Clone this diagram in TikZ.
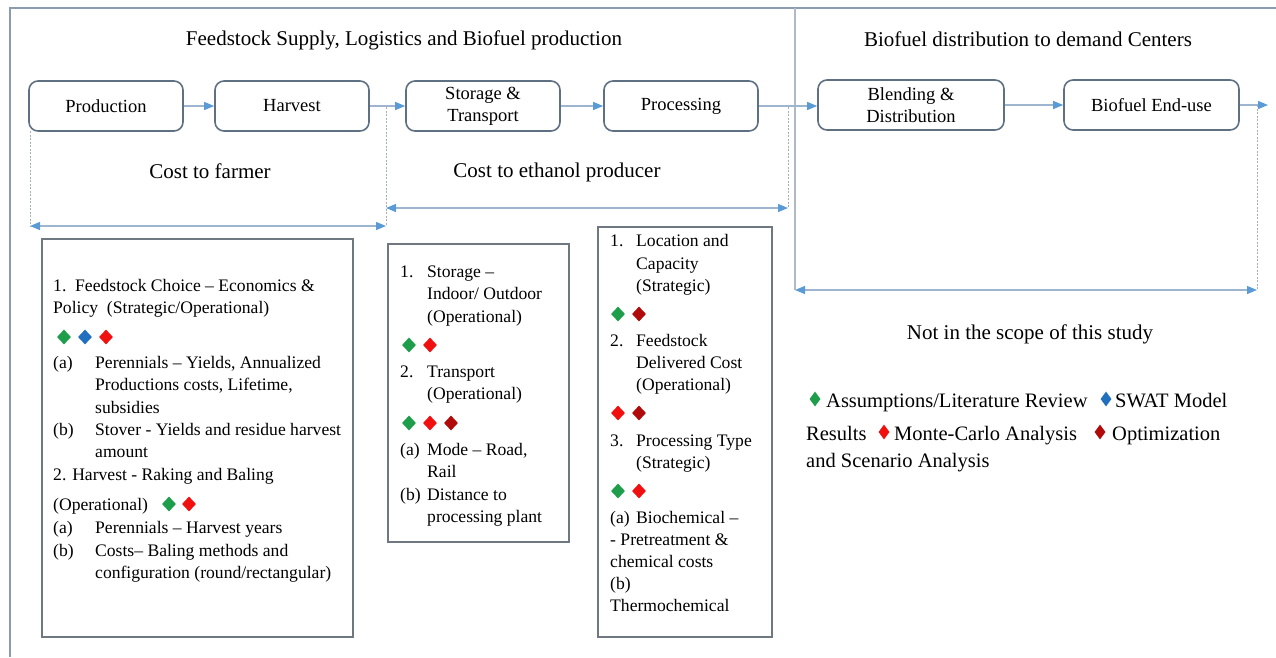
\documentclass[tikz,border=0pt]{standalone}
\usepackage{fontspec}
\setmainfont{Liberation Serif}
\usetikzlibrary{arrows.meta,shapes.geometric}
\definecolor{boxline}{HTML}{5E7082}
\definecolor{cboxc}{HTML}{6F7780}
\definecolor{arr}{HTML}{5B9BD5}
\definecolor{arrline}{HTML}{9DB5CF}
\definecolor{dotc}{HTML}{A5ADB5}
\definecolor{framec}{HTML}{8C9CAC}
\definecolor{cgreen}{HTML}{1E9E4A}
\definecolor{cblue}{HTML}{2170C0}
\definecolor{cred}{HTML}{F01010}
\definecolor{cdred}{HTML}{B00A0A}
\begin{document}
\begin{tikzpicture}[x=1pt,y=-1pt,
 stage/.style={draw=boxline,line width=1.6pt,rounded corners=9pt,minimum width=154pt,minimum height=50pt,font=\fontsize{18.5}{22}\selectfont,align=center,inner sep=0pt},
 flow/.style={draw=arrline,line width=1.2pt,-{Triangle[length=10pt,width=8pt,color=arr]}},
 span/.style={draw=arrline,line width=1.2pt,{Triangle[length=10pt,width=8pt,color=arr]}-{Triangle[length=10pt,width=8pt,color=arr]}},
 guide/.style={draw=dotc,line width=1pt,dash pattern=on 2pt off 1.5pt},
 cbox/.style={draw=cboxc,line width=1.6pt,inner sep=0pt,anchor=north west},
 lt/.style={anchor=base west,inner sep=0pt,font=\fontsize{17.6}{22}\selectfont},
 lg/.style={anchor=base west,inner sep=0pt,font=\fontsize{20.5}{24}\selectfont},
 ttl/.style={anchor=base,inner sep=0pt,font=\fontsize{21}{24}\selectfont},
 dia/.style={diamond,inner sep=0pt,minimum width=14pt,minimum height=15pt,draw=none},
 ldia/.style={diamond,inner sep=0pt,minimum width=11pt,minimum height=15pt,draw=none},
]
\useasboundingbox (0,0) rectangle (1276,657);
% frame
\draw[framec,line width=1.4pt] (10,657) -- (10,8) -- (1276,8);
\coordinate (dtop) at (795,8);
\coordinate (dbot) at (795,290);
\draw[color=framec!70,line width=1.2pt] (dtop) -- (dbot);

% titles
\node[ttl] (t1) at (404,45) {Feedstock Supply, Logistics and Biofuel production};
\node[ttl] (t2) at (1028,46) {Biofuel distribution to demand Centers};
\node[ttl] (t3) at (210,178) {Cost to farmer};
\node[ttl] (t4) at (557,177) {Cost to ethanol producer};
\node[ttl] (t5) at (1030,339) {Not in the scope of this study};

% stages
\node[stage] (prod) at (106,106) {Production};
\node[stage] (harv) at (292,106) {Harvest};
\node[stage] (stor) at (483,106) {Storage \&\\Transport};
\node[stage] (proc) at (681,106) {Processing};
\node[stage,minimum width=186pt] (blend) at (911,105) {Blending \&\\Distribution};
\node[stage,minimum width=175pt] (enduse) at (1151.5,105) {Biofuel End-use};
\coordinate (endc) at (1268,105);

\draw[flow] (prod) -- (harv);
\draw[flow] (harv) -- (stor);
\draw[flow] (stor) -- (proc);
\draw[flow] (proc.east) -- (proc.east -| blend.west);
\draw[flow] (blend) -- (enduse);
\draw[flow] (enduse) -- (endc);

% guides and spans
\coordinate (g1t) at (30,131);
\coordinate (g1b) at (30,226);
\coordinate (g2t) at (386,107);
\coordinate (g2b) at (386,226);
\coordinate (g2m) at (386,208);
\coordinate (g3t) at (788,107);
\coordinate (g3b) at (788,208);
\coordinate (g4t) at (1257,105);
\coordinate (g4b) at (1257,290);
\draw[guide] (g1t) -- (g1b);
\draw[guide] (g2t) -- (g2b);
\draw[guide] (g3t) -- (g3b);
\draw[guide] (g4t) -- (g4b);
\draw[span] (g1b) -- (g2b);
\draw[span] (g2m) -- (g3b);
\draw[span] (dbot) -- (g4b);

% content boxes
\node[cbox,minimum width=311pt,minimum height=398pt] (boxA) at (41,238) {};
\node[cbox,minimum width=181pt,minimum height=298pt] (boxB) at (387,243) {};
\node[cbox,minimum width=174pt,minimum height=410pt] (boxC) at (597,226) {};

% box A text
\node[lt] (a1) at (53,291) {\makebox[22pt][l]{1.}Feedstock Choice – Economics \&};
\node[lt] (a2) at (53,313) {Policy\ \ (Strategic/Operational)};
\node[dia,fill=cgreen] (ad1) at (64,337) {};
\node[dia,fill=cblue] (ad2) at (85,337) {};
\node[dia,fill=cred] (ad3) at (106,337) {};
\node[lt] (a3) at (53,368) {\makebox[42pt][l]{(a)}Perennials – Yields,\ Annualized};
\node[lt] (a4) at (95,390) {Productions costs, Lifetime,};
\node[lt] (a5) at (95,413) {subsidies};
\node[lt] (a6) at (53,435) {\makebox[42pt][l]{(b)}Stover - Yields and residue harvest};
\node[lt] (a7) at (95,457) {amount};
\node[lt] (a8) at (53,480) {2. Harvest - Raking and Baling};
\node[lt] (a9) at (53,510) {(Operational)};
\node[dia,fill=cgreen] (ad4) at (169,504) {};
\node[dia,fill=cred] (ad5) at (189,504) {};
\node[lt] (a10) at (53,533) {\makebox[42pt][l]{(a)}Perennials – Harvest years};
\node[lt] (a11) at (53,556) {\makebox[42pt][l]{(b)}Costs– Baling methods and};
\node[lt] (a12) at (95,578) {configuration (round/rectangular)};

% box B text
\node[lt] (b1) at (400,277) {\makebox[27pt][l]{1.}Storage –};
\node[lt] (b2) at (427,299) {Indoor/ Outdoor};
\node[lt] (b3) at (427,322) {(Operational)};
\node[dia,fill=cgreen] (bd1) at (409,345) {};
\node[dia,fill=cred] (bd2) at (430,345) {};
\node[lt] (b4) at (400,377) {\makebox[27pt][l]{2.}Transport};
\node[lt] (b5) at (427,399) {(Operational)};
\node[dia,fill=cgreen] (bd3) at (409,423) {};
\node[dia,fill=cred] (bd4) at (430,423) {};
\node[dia,fill=cdred] (bd5) at (451,423) {};
\node[lt] (b6) at (400,455) {\makebox[27pt][l]{(a)}Mode – Road,};
\node[lt] (b7) at (427,477) {Rail};
\node[lt] (b8) at (400,500) {\makebox[27pt][l]{(b)}Distance to};
\node[lt] (b9) at (427,522) {processing plant};

% box C text
\node[lt] (c1) at (610,246) {\makebox[26pt][l]{1.}Location and};
\node[lt] (c2) at (636,269) {Capacity};
\node[lt] (c3) at (636,291) {(Strategic)};
\node[dia,fill=cgreen] (cd1) at (618,314) {};
\node[dia,fill=cdred] (cd2) at (639,314) {};
\node[lt] (c4) at (610,346) {\makebox[26pt][l]{2.}Feedstock};
\node[lt] (c5) at (636,368) {Delivered Cost};
\node[lt] (c6) at (636,390) {(Operational)};
\node[dia,fill=cred] (cd3) at (618,413) {};
\node[dia,fill=cdred] (cd4) at (639,413) {};
\node[lt] (c7) at (610,446) {\makebox[26pt][l]{3.}Processing Type};
\node[lt] (c8) at (636,468) {(Strategic)};
\node[dia,fill=cgreen] (cd5) at (618,491) {};
\node[dia,fill=cred] (cd6) at (639,491) {};
\node[lt] (c9) at (610,523) {\makebox[26pt][l]{(a)}Biochemical –};
\node[lt] (c10) at (610,545) {- Pretreatment \&};
\node[lt] (c11) at (610,567) {chemical costs};
\node[lt] (c12) at (610,589) {(b)};
\node[lt] (c13) at (610,611) {Thermochemical};

% legend
\node[ldia,fill=cgreen] (ld1) at (815,399) {};
\node[lg] (l1) at (826,407) {Assumptions/Literature Review};
\node[ldia,fill=cblue] (ld2) at (1106,399) {};
\node[lg] (l2) at (1115,407) {SWAT Model};
\node[lg] (l3) at (806,440) {Results};
\node[ldia,fill=cred] (ld3) at (884,432) {};
\node[lg] (l4) at (894,440) {Monte-Carlo Analysis};
\node[ldia,fill=cdred] (ld4) at (1100,432) {};
\node[lg] (l5) at (1112,440) {Optimization};
\node[lg] (l6) at (806,467) {and Scenario Analysis};
\end{tikzpicture}
\end{document}
